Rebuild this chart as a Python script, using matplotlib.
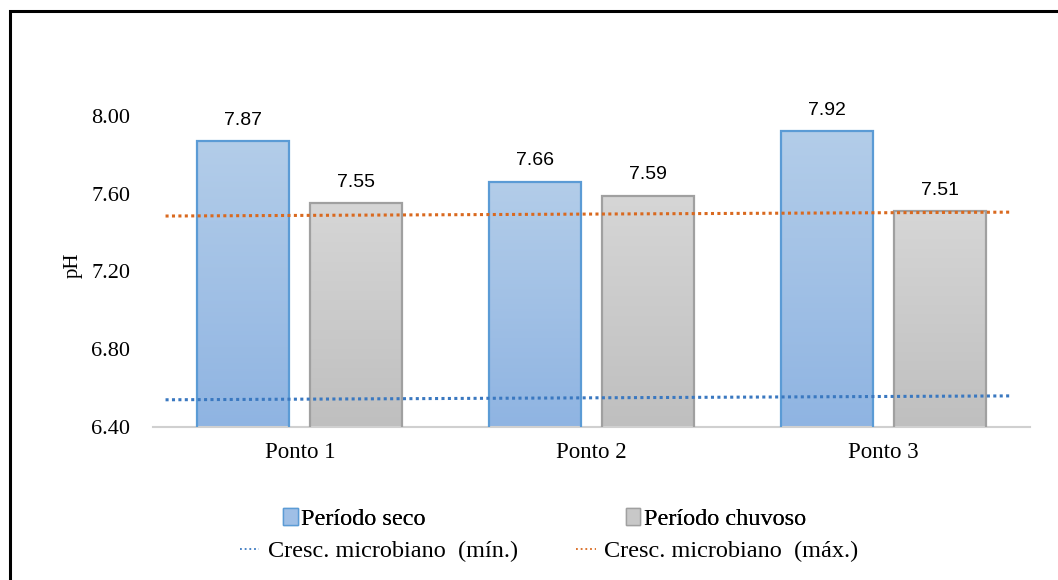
import numpy as np
import matplotlib.pyplot as plt
from matplotlib.colors import LinearSegmentedColormap
from matplotlib.lines import Line2D
from matplotlib.patches import Rectangle

plt.rcParams['font.family'] = ['Liberation Serif', 'DejaVu Serif']

pontos = ['Ponto 1', 'Ponto 2', 'Ponto 3']
seco = [7.87, 7.66, 7.92]
chuvoso = [7.55, 7.59, 7.51]

# limites de crescimento microbiano (linhas de tendência, extremos)
linha_x = [-0.46, 2.44]
cresc_min = [6.54, 6.56]
cresc_max = [7.485, 7.505]

fig = plt.figure(figsize=(10.58, 5.80), dpi=100)
ax = fig.add_axes([153 / 1058, 1 - 427 / 580, 877 / 1058, 350 / 580])

x = np.arange(len(pontos))
w = 0.315
off = 0.194


def gradient_bars(xpos, vals, c_top, c_bot, edge):
    bars = ax.bar(xpos, vals, width=w, bottom=0, color='none',
                  edgecolor=edge, linewidth=1.6, zorder=3)
    cmap = LinearSegmentedColormap.from_list('g', [c_bot, c_top])
    grad = np.linspace(0, 1, 256).reshape(-1, 1)
    for b in bars:
        x0 = b.get_x()
        im = ax.imshow(grad, cmap=cmap, origin='lower', aspect='auto',
                       extent=[x0, x0 + b.get_width(), 6.4, b.get_height()],
                       zorder=2)
        im.set_clip_path(b)
    return bars


b1 = gradient_bars(x - off, seco, '#b3cde9', '#8fb4e2', '#5b9bd5')
b2 = gradient_bars(x + off, chuvoso, '#d6d6d6', '#bfbfbf', '#a0a0a0')

for xs, vals in [(x - off, seco), (x + off, chuvoso)]:
    for xi, v in zip(xs, vals):
        ax.annotate(f'{v:.2f}', (xi, v), xytext=(0, 9), textcoords='offset points',
                    ha='center', va='bottom', fontsize=14,
                    family=['Liberation Sans', 'DejaVu Sans'])

ax.plot(linha_x, cresc_max, color='#d9691f', linestyle=(0, (1, 1.1)),
        linewidth=2.2, zorder=4)
ax.plot(linha_x, cresc_min, color='#3a78c0', linestyle=(0, (1, 1.1)),
        linewidth=2.2, zorder=4)

ax.set_xlim(-0.503, 2.503)
ax.set_ylim(6.4, 8.2)
ax.set_yticks([6.4, 6.8, 7.2, 7.6, 8.0])
ax.set_yticklabels([f'{t:.2f}' for t in [6.4, 6.8, 7.2, 7.6, 8.0]])
ax.set_xticks(x)
ax.set_xticklabels(pontos)
ax.tick_params(axis='x', length=0, labelsize=16.5, pad=11)
ax.tick_params(axis='y', length=0, labelsize=16, pad=16.5)
ax.set_ylabel('pH', fontsize=15)
ax.yaxis.set_label_coords(-0.08, (427 - 265) / 350)
for s in ['top', 'right', 'left']:
    ax.spines[s].set_visible(False)
ax.spines['bottom'].set_color('#d0d0d0')
ax.spines['bottom'].set_linewidth(1.5)

# legenda em duas linhas
h1 = [Rectangle((0, 0), 1, 1, facecolor='#9fbfe6', edgecolor='#5b9bd5'),
      Rectangle((0, 0), 1, 1, facecolor='#c8c8c8', edgecolor='#a0a0a0')]
leg1 = fig.legend(h1, ['Período seco', 'Período chuvoso'], ncol=2,
                  loc='center', bbox_to_anchor=(544.5 / 1058, 1 - 519 / 580),
                  frameon=False, fontsize=17.5, handlelength=0.6,
                  handleheight=0.7, handletextpad=0.15, borderpad=0,
                  columnspacing=8.23)
h2 = [Line2D([], [], color='#3a78c0', linestyle=(0, (1, 1.6)), linewidth=1.3),
      Line2D([], [], color='#d9691f', linestyle=(0, (1, 1.6)), linewidth=1.3)]
leg2 = fig.legend(h2, ['Cresc. microbiano  (mín.)', 'Cresc. microbiano  (máx.)'],
                  ncol=2, loc='center', bbox_to_anchor=(549 / 1058, 1 - 551 / 580),
                  frameon=False, fontsize=17.5, handlelength=0.8,
                  handletextpad=0.35, borderpad=0, columnspacing=2.4)
fig.add_artist(leg1)

# moldura externa
fig.add_artist(Rectangle((9.5 / 1058, -0.2), 1.5, 1.2 - 11 / 580,
                         transform=fig.transFigure, fill=False,
                         edgecolor='black', linewidth=2.2))

fig.savefig('out.png', dpi=100)
